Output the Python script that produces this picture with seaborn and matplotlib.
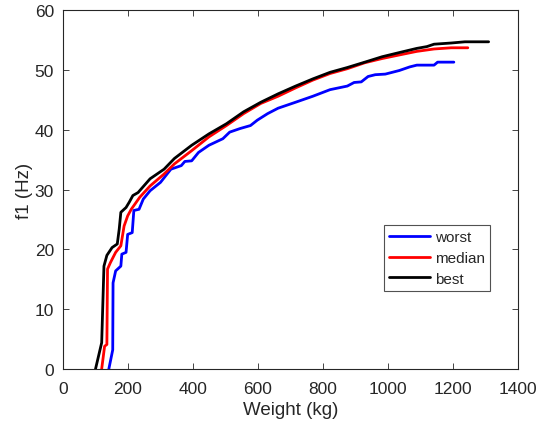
import numpy as np
import pandas as pd
import matplotlib
matplotlib.use("Agg")
import matplotlib.pyplot as plt
import seaborn as sns

# ---- data ----
best_w = [100, 119, 126, 135, 151, 167, 173, 178, 194, 204, 215, 231, 268, 311, 343, 396, 449, 503,
          556, 609, 662, 716, 769, 822, 875, 929, 982, 1035, 1089, 1120, 1142, 1195, 1237, 1310]
best_f = [0, 4.4, 17.2, 19.0, 20.3, 20.9, 23.4, 26.2, 27.0, 27.9, 29.0, 29.5, 31.8, 33.4, 35.2, 37.4, 39.3, 41.0,
          43.0, 44.6, 46.0, 47.3, 48.5, 49.6, 50.4, 51.3, 52.2, 52.9, 53.6, 53.9, 54.3, 54.5, 54.7, 54.7]

median_w = [119, 128, 135, 137, 146, 162, 178, 188, 199, 210, 236, 268, 311, 343, 396, 449, 503,
            556, 609, 662, 716, 769, 822, 875, 929, 982, 1035, 1089, 1142, 1195, 1246]
median_f = [0, 3.8, 4.1, 16.7, 17.8, 19.5, 20.6, 23.9, 25.6, 26.7, 28.7, 30.6, 32.6, 34.3, 36.5, 38.8, 40.7,
            42.7, 44.4, 45.6, 47.0, 48.3, 49.4, 50.2, 51.2, 51.9, 52.5, 53.1, 53.5, 53.7, 53.7]

worst_w = [141, 153, 154, 162, 178, 181, 194, 199, 213, 218, 234, 247, 268, 300, 332, 364, 375, 396, 417,
           449, 492, 513, 545, 577, 598, 630, 662, 716, 769, 822, 875, 896, 918, 939, 961, 992, 1035,
           1067, 1089, 1142, 1153, 1203]
worst_f = [0, 3.2, 14.4, 16.4, 17.2, 19.2, 19.5, 22.5, 22.8, 26.5, 26.7, 28.4, 29.8, 31.2, 33.4, 34.0, 34.7, 34.8, 36.2,
           37.4, 38.5, 39.6, 40.2, 40.7, 41.6, 42.7, 43.6, 44.6, 45.6, 46.7, 47.3, 47.9, 48.0, 48.9, 49.2, 49.3, 49.9,
           50.5, 50.8, 50.8, 51.3, 51.3]

series_names = ["worst", "median", "best"]
series_colors = ["#0000FF", "#FF0000", "#000000"]
x_ticks = [0, 200, 400, 600, 800, 1000, 1200, 1400]
y_ticks = [0, 10, 20, 30, 40, 50, 60]

frames = []
for name, w, f in zip(series_names, [worst_w, median_w, best_w], [worst_f, median_f, best_f]):
    frames.append(pd.DataFrame({"Weight": w, "f1": f, "series": name, "order": np.arange(len(w))}))
df = pd.concat(frames, ignore_index=True)

sns.set_style("white")
plt.rcParams["font.family"] = ["Liberation Sans", "DejaVu Sans"]

fig = plt.figure(figsize=(5.48, 4.27), dpi=100)
ax = fig.add_axes([0.115, 0.1335, 0.83, 0.8405])

sns.lineplot(data=df, x="Weight", y="f1", hue="series", hue_order=series_names,
             palette=dict(zip(series_names, series_colors)), sort=False, estimator=None,
             units="series", linewidth=2.0, ax=ax)

ax.set_xlim(0, 1400)
ax.set_ylim(0, 60)
ax.set_xticks(x_ticks)
ax.set_yticks(y_ticks)
ax.set_xlabel("Weight (kg)", fontsize=13.5, color="#262626", labelpad=4)
ax.set_ylabel("f1 (Hz)", fontsize=13.5, color="#262626", labelpad=1)
ax.tick_params(direction="in", length=4, width=0.6, colors="#262626", labelsize=12.5,
               top=True, right=True, bottom=True, left=True)
ax.tick_params(axis="x", pad=8.5)
ax.tick_params(axis="y", pad=6.5)
for s in ax.spines.values():
    s.set_color("#262626")
    s.set_linewidth(0.8)

handles, labels = ax.get_legend_handles_labels()
leg = ax.legend(handles, labels, loc="upper left", bbox_to_anchor=(0.705, 0.402),
                frameon=True, fancybox=False, edgecolor="#262626", fontsize=11,
                handlelength=2.7, handletextpad=0.3, borderpad=0.35, labelspacing=0.45,
                borderaxespad=0)
leg.get_frame().set_linewidth(0.8)
for line in leg.get_lines():
    line.set_linewidth(2.0)

fig.savefig("out.png", dpi=100)
